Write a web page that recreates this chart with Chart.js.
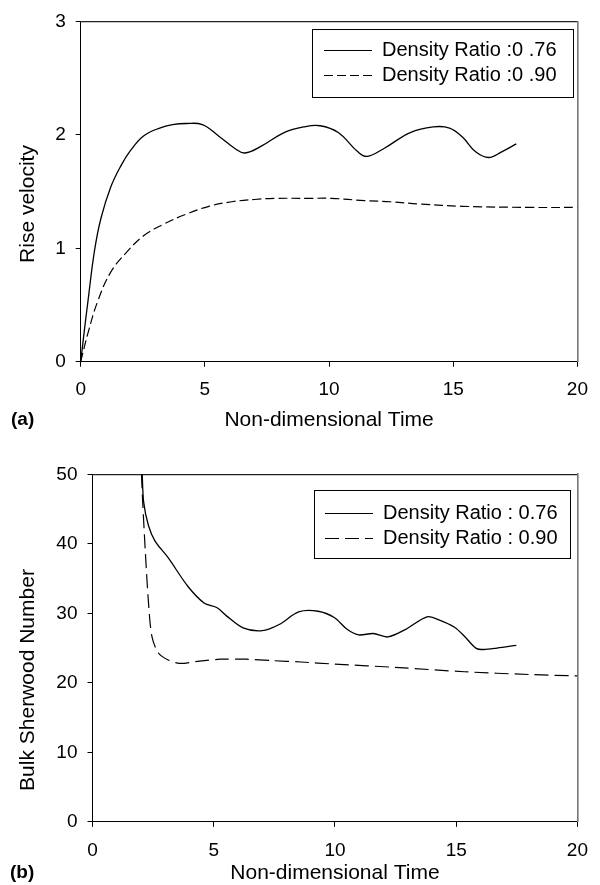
<!DOCTYPE html>
<html><head><meta charset="utf-8">
<script src="https://cdn.jsdelivr.net/npm/chart.js@4/dist/chart.umd.min.js"></script>
<style>
html,body{margin:0;padding:0;background:#fff;}
#wrap{position:relative;width:600px;height:885px;background:#fff;}
canvas{position:absolute;left:0;display:block;}
</style></head><body>
<div id="wrap">
<canvas id="c1" width="600" height="442" style="top:0"></canvas>
<canvas id="c2" width="600" height="443" style="top:442px"></canvas>
</div>
<script>
// ---------- DATA ----------
const xTicks = [0, 5, 10, 15, 20];
const velTicks = [0, 1, 2, 3];
const shTicks = [0, 10, 20, 30, 40, 50];
const seriesNamesA = ['Density Ratio :0 .76', 'Density Ratio :0 .90'];
const seriesNamesB = ['Density Ratio : 0.76', 'Density Ratio : 0.90'];

// (a) Rise velocity
const velTime76 = [0, 0.15, 0.29, 0.55, 0.81, 1.21, 1.6, 2.0, 2.53, 3.18, 3.7, 4.24, 4.9, 5.55, 6.21, 6.61, 7.27, 8.19, 8.98, 9.64, 10.37, 11.16, 11.53, 12.21, 13.27, 14.19, 14.85, 15.37, 15.9, 16.43, 16.95, 17.54];
const velVal76  = [0, 0.28, 0.53, 0.97, 1.26, 1.54, 1.72, 1.86, 1.99, 2.06, 2.09, 2.10, 2.09, 1.99, 1.88, 1.84, 1.90, 2.02, 2.07, 2.08, 2.02, 1.85, 1.81, 1.88, 2.02, 2.07, 2.06, 1.98, 1.85, 1.80, 1.85, 1.92];
const velTime90 = [0, 0.29, 0.68, 1.21, 1.87, 2.53, 3.32, 4.24, 5.16, 6.08, 7.0, 7.79, 9.11, 10.1, 11.43, 12.48, 13.67, 15.37, 18.14, 20];
const velVal90  = [0, 0.25, 0.53, 0.79, 0.97, 1.11, 1.21, 1.30, 1.37, 1.41, 1.43, 1.44, 1.44, 1.44, 1.42, 1.41, 1.39, 1.37, 1.36, 1.36];

// (b) Bulk Sherwood number
const shTime76 = [2.05, 2.11, 2.31, 2.58, 3.12, 3.93, 4.6, 5.14, 5.54, 6.21, 7.0, 7.7, 8.5, 9.3, 9.97, 10.5, 10.97, 11.58, 12.18, 12.92, 13.79, 14.26, 14.93, 15.34, 15.81, 16.14, 16.68, 17.48];
const shVal76  = [50, 46.0, 42.6, 40.4, 38.0, 33.9, 31.5, 30.8, 29.6, 27.9, 27.5, 28.4, 30.2, 30.3, 29.4, 27.7, 26.9, 27.1, 26.6, 27.7, 29.5, 29.1, 28.0, 26.7, 25.0, 24.8, 25.0, 25.4];
const shTime90 = [2.02, 2.07, 2.18, 2.31, 2.45, 2.72, 3.12, 3.59, 4.33, 5.27, 6.34, 7.4, 8.6, 9.97, 12.65, 15.34, 18.0, 20];
const shVal90  = [50, 46, 38.8, 31.5, 26.7, 24.3, 23.3, 22.8, 23.1, 23.4, 23.4, 23.2, 23.0, 22.7, 22.2, 21.6, 21.2, 21.0];

// ---------- RENDERING ----------
const FONT = '"Liberation Sans", Arial, Helvetica, sans-serif';
Chart.defaults.font.family = FONT;
Chart.defaults.color = '#000';

const pts = (xs, ys) => xs.map((x, i) => ({x: x, y: ys[i]}));

const panelDecor = {
  id: 'panelDecor',
  afterLayout(chart, args, o) {
    const lg = chart.legend;
    if (!lg) return;
    const w = lg.width, h = lg.height;
    lg.left = o.legendX; lg.top = o.legendY;
    lg.right = lg.left + w; lg.bottom = lg.top + h;
  },
  afterDraw(chart, args, o) {
    const ctx = chart.ctx;
    ctx.save();
    ctx.strokeStyle = '#000';
    ctx.lineWidth = 1;
    ctx.strokeRect(o.box[0], o.box[1], o.box[2], o.box[3]);
    ctx.fillStyle = '#000';
    ctx.textBaseline = 'middle';
    ctx.font = 'bold 19px ' + FONT;
    ctx.textAlign = 'left';
    ctx.fillText(o.panel, o.panelX, o.panelY);
    ctx.font = '21px ' + FONT;
    ctx.textAlign = 'center';
    ctx.translate(o.yTitleX, o.yTitleY);
    ctx.rotate(-Math.PI / 2);
    ctx.fillText(o.yTitle, 0, 0);
    ctx.restore();
  }
};

function legendLabels(chart) {
  const items = Chart.defaults.plugins.legend.labels.generateLabels(chart);
  items.forEach((it, i) => {
    const d = chart.data.datasets[it.datasetIndex !== undefined ? it.datasetIndex : i];
    it.lineDash = d.borderDash || [];
    it.strokeStyle = '#000';
    it.fillStyle = '#000';
    it.lineWidth = 1;
    it.fontColor = '#000';
  });
  return items;
}

function makeChart(id, cfg) {
  const ds = [
    {label: cfg.names[0], data: pts(cfg.t1, cfg.v1), borderColor: '#000', backgroundColor: '#000',
     borderWidth: 1.3, pointRadius: 0, fill: false, tension: cfg.tension},
    {label: cfg.names[1], data: pts(cfg.t2, cfg.v2), borderColor: '#000', backgroundColor: '#000',
     borderWidth: 1.2, borderDash: cfg.dash, pointRadius: 0, fill: false, tension: cfg.tension}
  ];
  return new Chart(document.getElementById(id), {
    type: 'line',
    data: {datasets: ds},
    plugins: [panelDecor],
    options: {
      responsive: false,
      animation: false,
      events: [],
      layout: {padding: {left: 0, right: cfg.padRight, top: cfg.padTop, bottom: 0}},
      scales: {
        x: {
          type: 'linear', position: 'bottom', min: xTicks[0], max: xTicks[xTicks.length - 1],
          afterBuildTicks: s => { s.ticks = xTicks.map(v => ({value: v})); },
          ticks: {font: {size: 19}, color: '#000', padding: 12},
          grid: {drawOnChartArea: false, drawTicks: true, tickLength: 5, color: '#000'},
          border: {color: '#000', width: 1},
          title: {display: true, text: 'Non-dimensional Time', font: {size: 21, lineHeight: 1.1},
                  color: '#000', padding: {top: 0, bottom: cfg.xTitlePad}},
          afterFit: s => { s.height = cfg.xAxisH; }
        },
        y: {
          type: 'linear', position: 'left', min: cfg.yTicks[0], max: cfg.yTicks[cfg.yTicks.length - 1],
          afterBuildTicks: s => { s.ticks = cfg.yTicks.map(v => ({value: v})); },
          ticks: {font: {size: 19}, color: '#000', padding: 10},
          grid: {drawOnChartArea: false, drawTicks: true, tickLength: 5, color: '#000'},
          border: {color: '#000', width: 1},
          afterFit: s => { s.width = cfg.yAxisW; }
        },
        xTop: {
          type: 'linear', position: 'top', display: true,
          ticks: {display: false}, grid: {drawOnChartArea: false, drawTicks: false},
          border: {color: '#222', width: 1.2},
          afterFit: s => { s.height = 0; }
        },
        yRight: {
          type: 'linear', position: 'right', display: true,
          ticks: {display: false}, grid: {drawOnChartArea: false, drawTicks: false},
          border: {color: '#777', width: 1.6},
          afterFit: s => { s.width = 0; }
        }
      },
      plugins: {
        tooltip: {enabled: false},
        title: {display: false},
        legend: {
          display: true, position: 'chartArea', align: 'start',
          labels: {usePointStyle: true, pointStyle: 'line', pointStyleWidth: 48, boxHeight: 20,
                   padding: 5, color: '#000', font: {size: 20}, generateLabels: legendLabels}
        },
        panelDecor: cfg.decor
      }
    }
  });
}

makeChart('c1', {
  names: seriesNamesA, t1: velTime76, v1: velVal76, t2: velTime90, v2: velVal90, tension: 0.4,
  dash: [9, 4], yTicks: velTicks, padRight: 12, padTop: 15, xAxisH: 80.3, yAxisW: 80.7, xTitlePad: 10.5,
  decor: {legendX: 319, legendY: 35.5, box: [312.5, 29.5, 261, 68], panel: '(a)', panelX: 11, panelY: 420,
          yTitle: 'Rise velocity', yTitleX: 28, yTitleY: 204}
});
makeChart('c2', {
  names: seriesNamesB, t1: shTime76, v1: shVal76, t2: shTime90, v2: shVal90, tension: 0.3,
  dash: [14, 6], yTicks: shTicks, padRight: 11, padTop: 32.3, xAxisH: 63.1, yAxisW: 92.5, xTitlePad: 0,
  decor: {legendX: 320, legendY: 56.5, box: [314.5, 48.5, 256, 68], panel: '(b)', panelX: 10, panelY: 431,
          yTitle: 'Bulk Sherwood Number', yTitleX: 28, yTitleY: 238}
});
</script>
</body></html>
